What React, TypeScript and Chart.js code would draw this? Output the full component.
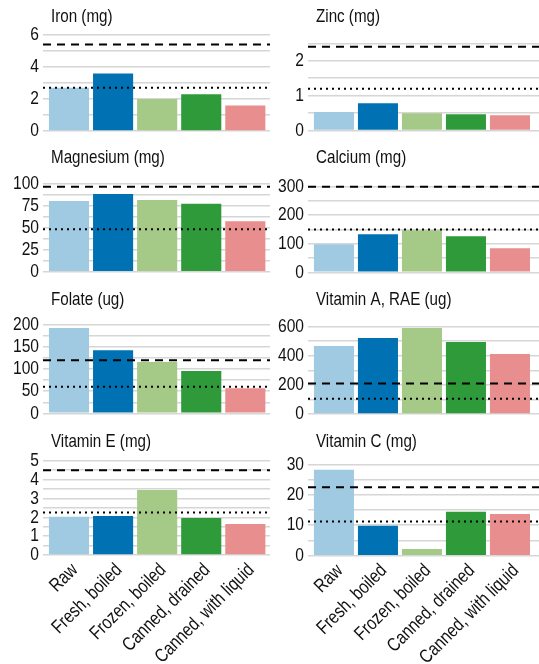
import React, { useEffect, useRef } from "react";
import { Chart, registerables } from "chart.js";

Chart.register(...registerables);

// ---------- DATA ----------
const categories = ["Raw", "Fresh, boiled", "Frozen, boiled", "Canned, drained", "Canned, with liquid"];
const barColors = ["#a0cae2", "#0072b4", "#a5c987", "#2e9a3a", "#e88e8e"];

const nutrientTitles = [
  "Iron (mg)",
  "Zinc (mg)",
  "Magnesium (mg)",
  "Calcium (mg)",
  "Folate (ug)",
  "Vitamin A, RAE (ug)",
  "Vitamin E (mg)",
  "Vitamin C (mg)",
];

const ironValues = [2.7, 3.6, 2.0, 2.3, 1.6];
const zincValues = [0.53, 0.78, 0.5, 0.47, 0.44];
const magnesiumValues = [80, 88, 81, 77, 57];
const calciumValues = [98, 133, 147, 126, 84];
const folateValues = [193, 143, 116, 96, 57];
const vitaminAValues = [467, 522, 591, 495, 412];
const vitaminEValues = [2.03, 2.07, 3.45, 1.96, 1.64];
const vitaminCValues = [28.2, 9.8, 2.2, 14.4, 13.7];

const seriesList = [
  ironValues,
  zincValues,
  magnesiumValues,
  calciumValues,
  folateValues,
  vitaminAValues,
  vitaminEValues,
  vitaminCValues,
];

// reference lines (dashed = full, dotted = half)
const dashedRef = [5.4, 2.4, 96, 300, 120, 210, 4.5, 22.5];
const dottedRef = [2.7, 1.2, 48, 150, 60, 105, 2.25, 11.25];

// y axis ticks
const yMax = [6, 2.5, 100, 300, 200, 600, 5, 30];
const gridStep = [1, 0.5, 12.5, 50, 25, 100, 0.5, 5];
const labelStep = [2, 1, 25, 100, 50, 200, 1, 10];

// ---------- LAYOUT ----------
const FONT = "'Liberation Sans', Arial, sans-serif";
const NARROW = 0.82;
const TICK_SIZE = 19;
const TITLE_SIZE = 18.5;
const PAGE_H = 664;
const plotTops = [35, 43.3, 183.3, 186.7, 325, 326.7, 460.7, 464.3];
const plotBottoms = [131, 130.6, 271.7, 272.3, 413.3, 414, 555, 555.7];
const titleBaselines = [21.5, 163, 305, 447];
const colLeft = [0, 270];
const colWidth = [270, 269];
const yAxisWidth = [43, 38];
const xRange = [
  [-0.59, 4.56],
  [-0.59, 4.66],
];

const panelTitlePlugin = {
  id: "panelTitle",
  afterDraw(chart: any, _args: any, opts: any) {
    const { ctx, chartArea } = chart;
    ctx.save();
    ctx.font = `${TITLE_SIZE}px ${FONT}`;
    ctx.fillStyle = "#111";
    ctx.textAlign = "left";
    ctx.textBaseline = "alphabetic";
    ctx.fillText(opts.text, chartArea.left + 8, opts.baseline);
    ctx.restore();
  },
};

const refLinesPlugin = {
  id: "refLines",
  afterDatasetsDraw(chart: any, _args: any, opts: any) {
    const { ctx, chartArea, scales } = chart;
    const draw = (v: number, dash: number[]) => {
      const y = scales.y.getPixelForValue(v);
      ctx.save();
      ctx.strokeStyle = "#000";
      ctx.lineWidth = 2;
      ctx.setLineDash(dash);
      ctx.beginPath();
      ctx.moveTo(chartArea.left, y);
      ctx.lineTo(chartArea.right, y);
      ctx.stroke();
      ctx.restore();
    };
    draw(opts.high, [8, 6]);
    draw(opts.low, [2, 4]);
  },
};

// condensed text: draw every label squeezed horizontally about its anchor
function makeNarrow(ctx: any) {
  const orig = CanvasRenderingContext2D.prototype.fillText;
  ctx.fillText = function (text: string, x: number, y: number, maxWidth?: number) {
    this.save();
    this.translate(x, y);
    this.scale(NARROW, 1);
    if (maxWidth !== undefined) orig.call(this, text, 0, 0, maxWidth / NARROW);
    else orig.call(this, text, 0, 0);
    this.restore();
  };
}

function Panel({ idx }: { idx: number }) {
  const ref = useRef<HTMLCanvasElement>(null);
  const col = idx % 2;
  const row = Math.floor(idx / 2);
  const isBottom = row === 3;
  const plotTop = plotTops[idx];
  const plotBottom = plotBottoms[idx];
  const canvasTop = Math.floor(plotTop) - 45;
  const canvasHeight = isBottom ? PAGE_H - canvasTop : Math.ceil(plotBottom) + 20 - canvasTop;
  const w = colWidth[col];

  useEffect(() => {
    if (!ref.current) return;
    const ctx = ref.current.getContext("2d");
    makeNarrow(ctx);
    const values = seriesList[idx];
    const yTicks: number[] = [];
    const n = Math.round(yMax[idx] / gridStep[idx]);
    for (let k = 0; k <= n; k++) yTicks.push(k * gridStep[idx]);
    const ls = labelStep[idx];

    const chart = new Chart(ref.current, {
      type: "bar",
      data: {
        datasets: [
          {
            data: values.map((v, i) => ({ x: i, y: v })),
            backgroundColor: barColors,
            borderWidth: 0,
            barPercentage: 1,
            categoryPercentage: 0.91,
          } as any,
        ],
      },
      options: {
        animation: false,
        responsive: false,
        maintainAspectRatio: false,
        events: [],
        layout: {
          padding: {
            top: plotTop - canvasTop,
            bottom: isBottom ? 0 : canvasTop + canvasHeight - plotBottom,
            left: 0,
            right: 0,
          },
        },
        plugins: {
          legend: { display: false },
          tooltip: { enabled: false },
          panelTitle: { text: nutrientTitles[idx], baseline: titleBaselines[row] - canvasTop },
          refLines: { high: dashedRef[idx], low: dottedRef[idx] },
        } as any,
        scales: {
          x: {
            type: "linear",
            offset: false,
            min: xRange[col][0],
            max: xRange[col][1],
            display: isBottom,
            grid: { display: false },
            border: { display: false },
            afterBuildTicks: (s: any) => {
              s.ticks = categories.map((_, i) => ({ value: i }));
            },
            afterFit: (s: any) => {
              if (isBottom) s.height = PAGE_H - plotBottom;
            },
            ticks: {
              autoSkip: false,
              maxRotation: 45,
              minRotation: 45,
              padding: -4,
              labelOffset: 6,
              color: "#111",
              font: { family: FONT, size: TICK_SIZE },
              callback: (v: any) => categories[Math.round(Number(v))] ?? "",
            },
          },
          y: {
            min: 0,
            max: yMax[idx],
            afterBuildTicks: (s: any) => {
              s.ticks = yTicks.map((v) => ({ value: v }));
            },
            afterFit: (s: any) => {
              s.width = yAxisWidth[col];
            },
            grid: { color: "#d6d6d6", lineWidth: 1.5, drawTicks: false },
            border: { display: false },
            ticks: {
              autoSkip: false,
              padding: 4,
              color: "#111",
              font: { family: FONT, size: TICK_SIZE },
              callback: (v: any) => {
                const num = Number(v);
                const r = num / ls;
                return Math.abs(r - Math.round(r)) < 1e-6 ? String(Math.round(num * 1000) / 1000) : "";
              },
            },
          },
        } as any,
      },
      plugins: [panelTitlePlugin, refLinesPlugin] as any,
    });
    return () => chart.destroy();
  }, []);

  return (
    <canvas
      ref={ref}
      width={w}
      height={canvasHeight}
      style={{ position: "absolute", left: colLeft[col], top: canvasTop, width: w, height: canvasHeight }}
    />
  );
}

export default function App() {
  return (
    <div style={{ position: "fixed", left: 0, top: 0, width: 539, height: 664, background: "#fff", overflow: "hidden" }}>
      {nutrientTitles.map((_, i) => (
        <Panel key={i} idx={i} />
      ))}
    </div>
  );
}
